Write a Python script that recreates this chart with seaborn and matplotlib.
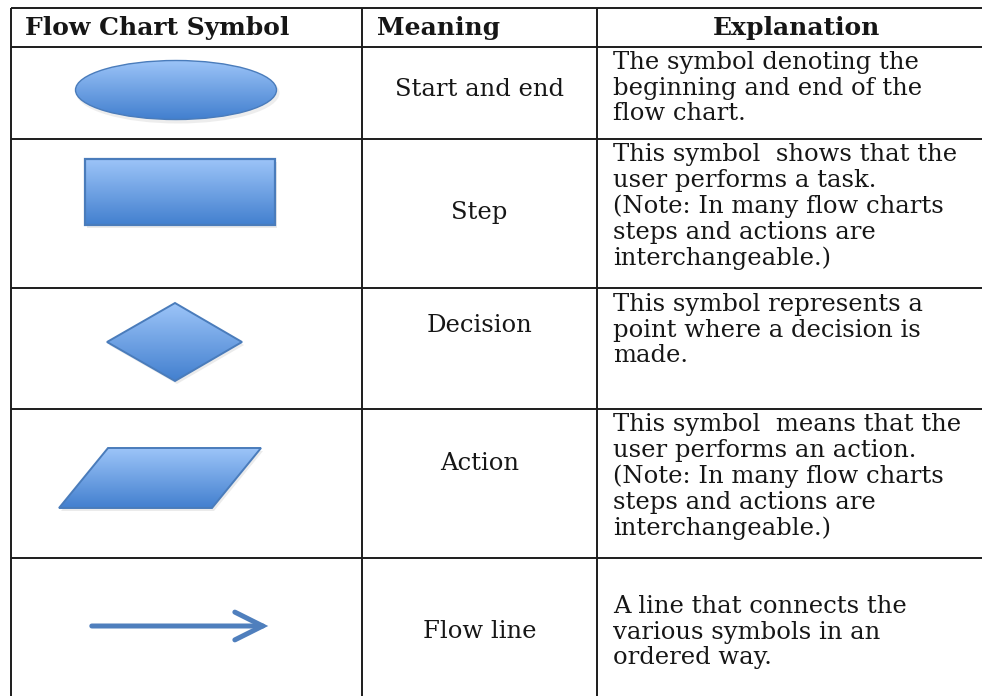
import numpy as np
import matplotlib
matplotlib.use("Agg")
import matplotlib.pyplot as plt
import seaborn as sns
from matplotlib.patches import Ellipse, Rectangle, Polygon, FancyArrowPatch
from matplotlib.colors import LinearSegmentedColormap

# === DATA
header = ["Flow Chart Symbol", "Meaning", "Explanation"]
symbols = ["ellipse", "rectangle", "diamond", "parallelogram", "arrow"]
meanings = ["Start and end", "Step", "Decision", "Action", "Flow line"]
explanations = [
    "The symbol denoting the\nbeginning and end of the\nflow chart.",
    "This symbol  shows that the\nuser performs a task.\n(Note: In many flow charts\nsteps and actions are\ninterchangeable.)",
    "This symbol represents a\npoint where a decision is\nmade.",
    "This symbol  means that the\nuser performs an action.\n(Note: In many flow charts\nsteps and actions are\ninterchangeable.)",
    "A line that connects the\nvarious symbols in an\nordered way.",
]

# === LAYOUT (pixels)
W, H = 982, 696
col_x = [11, 362, 597, 985]
row_y = [8, 47, 139, 288, 409, 558, 698]
meaning_y = [90, 213, 326, 463, 632]
expl_top = [51, 143, 293, 413, 595]
expl_x = 613

TOP_C = "#9cc4f8"
BOT_C = "#4380cf"
EDGE_C = "#4a7cbb"
LINE_C = "#1c1c1c"
TEXT_C = "#161616"

sns.set_theme(style="white")
plt.rcParams["font.family"] = ["DejaVu Serif"]

fig = plt.figure(figsize=(W / 100, H / 100), dpi=100)
ax = fig.add_axes([0, 0, 1, 1])
ax.set_xlim(0, W)
ax.set_ylim(H, 0)
ax.axis("off")

grad = LinearSegmentedColormap.from_list("grad", [TOP_C, BOT_C])


def gradient_patch(patch):
    # fill a patch with a vertical light-to-dark blue gradient
    ax.add_patch(patch)
    bb = patch.get_path().transformed(patch.get_patch_transform()).get_extents()
    img = np.linspace(0, 1, 100).reshape(-1, 1)
    im = ax.imshow(img, cmap=grad, aspect="auto",
                   extent=[bb.x0, bb.x1, bb.y1, bb.y0], zorder=2)
    im.set_clip_path(patch)
    patch.set_zorder(3)
    patch.set_facecolor("none")


def shadow(poly_pts):
    pts = np.asarray(poly_pts) + np.array([2, 3])
    ax.add_patch(Polygon(pts, closed=True, facecolor="#d8d8d8", edgecolor="none",
                         alpha=0.5, zorder=1))


# ellipse
ax.add_patch(Ellipse((178, 93), 203, 61, facecolor="#dcdcdc", edgecolor="none", alpha=0.5, zorder=1))
gradient_patch(Ellipse((176, 90), 201, 59, edgecolor=EDGE_C, lw=1.0))

# rectangle
shadow([(85, 159), (275, 159), (275, 225), (85, 225)])
gradient_patch(Rectangle((85, 159), 190, 66, edgecolor=EDGE_C, lw=1.6))

# diamond
dia = [(107, 342), (175, 303), (242, 342), (175, 381)]
shadow(dia)
gradient_patch(Polygon(dia, closed=True, edgecolor=EDGE_C, lw=1.4))

# parallelogram
par = [(108, 448), (261, 448), (212, 508), (59, 508)]
shadow(par)
gradient_patch(Polygon(par, closed=True, edgecolor=EDGE_C, lw=1.4))

# arrow
ax.add_patch(FancyArrowPatch((89, 626), (271, 626),
                             arrowstyle="->,head_length=1.0,head_width=0.5",
                             mutation_scale=20, lw=3.6, color="#4f7fbd",
                             capstyle="round", joinstyle="miter", zorder=3))

# === TABLE LINES
for y in row_y:
    ax.plot([col_x[0], col_x[-1]], [y, y], color=LINE_C, lw=1.4, solid_capstyle="butt", zorder=4)
for x in col_x:
    ax.plot([x, x], [row_y[0], row_y[-1]], color=LINE_C, lw=1.4, solid_capstyle="butt", zorder=4)

# === HEADER
hy = (row_y[0] + row_y[1]) / 2 + 1
ax.text(25, hy, header[0], fontsize=18, fontweight="bold", color=TEXT_C, va="center", ha="left")
ax.text(377, hy, header[1], fontsize=18, fontweight="bold", color=TEXT_C, va="center", ha="left")
ax.text(797, hy, header[2], fontsize=18, fontweight="bold", color=TEXT_C, va="center", ha="center")

# === MEANINGS / EXPLANATIONS
mx = (col_x[1] + col_x[2]) / 2
for i in range(len(meanings)):
    ax.text(mx, meaning_y[i], meanings[i], fontsize=17.5, color=TEXT_C, va="center", ha="center")
    ax.text(expl_x, expl_top[i], explanations[i], fontsize=17.5, color=TEXT_C,
            va="top", ha="left", linespacing=1.15)

fig.savefig("out.png", dpi=100)
